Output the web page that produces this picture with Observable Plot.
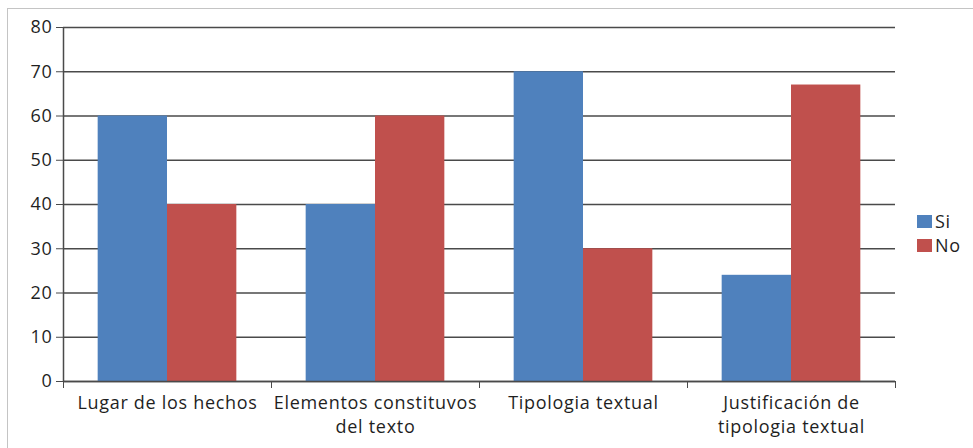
<!DOCTYPE html>
<html>
<head>
<meta charset="utf-8">
<script src="https://cdn.jsdelivr.net/npm/d3@7"></script>
<script src="https://cdn.jsdelivr.net/npm/@observablehq/plot@0.6"></script>
<style>
  html, body { margin: 0; padding: 0; background: #fff; }
  #wrap { position: relative; width: 973px; height: 448px; overflow: hidden; font-family: "Open Sans", sans-serif; color: #1f1f1f; }
  #border { position: absolute; left: 7px; top: 8px; width: 980px; height: 460px; border-left: 1.5px solid #c4c4c4; border-top: 1.5px solid #c4c4c4; }
  #chart { position: absolute; left: 0; top: 0; }
  #chart svg text { letter-spacing: 0.7px; }
  #legend { position: absolute; left: 917px; top: 209px; font-size: 18px; line-height: 24px; letter-spacing: 0.7px; }
  #legend .row { display: flex; align-items: center; }
  #legend .sw { width: 15px; height: 13px; margin-right: 3px; }
</style>
</head>
<body>
<div id="wrap">
  <div id="border"></div>
  <div id="chart"></div>
  <div id="legend"></div>
</div>
<script>
const categories = ["Lugar de los hechos", "Elementos constituvos del texto", "Tipologia textual", "Justificación de tipologia textual"];
const categoryLabels = ["Lugar de los hechos", "Elementos constituvos\ndel texto", "Tipologia textual", "Justificación de\ntipologia textual"];
const series = ["Si", "No"];
const siValues = [60, 40, 70, 24];
const noValues = [40, 60, 30, 67];
const yTicks = [0, 10, 20, 30, 40, 50, 60, 70, 80];
const colors = ["#4f81bd", "#c0504d"];

const data = categories.flatMap((c, i) => [
  {category: c, series: "Si", value: siValues[i]},
  {category: c, series: "No", value: noValues[i]}
]);

const axisColor = "#4a4a4a";

const chart = Plot.plot({
  width: 973,
  height: 448,
  marginLeft: 63,
  marginRight: 78,
  marginTop: 27,
  marginBottom: 67,
  style: {fontFamily: "'Open Sans', sans-serif", color: "#1f1f1f", background: "transparent"},
  fx: {domain: categories, padding: 0, axis: null, label: null},
  x: {domain: [0, series.length + 1], axis: null},
  y: {domain: [0, 80], axis: null},
  color: {domain: series, range: colors},
  marks: [
    Plot.gridY(yTicks, {stroke: axisColor, strokeOpacity: 1, strokeWidth: 1.5}),
    Plot.rectY(data, {
      fx: "category",
      x1: d => series.indexOf(d.series) + 0.5,
      x2: d => series.indexOf(d.series) + 1.5,
      y: "value",
      fill: "series"
    }),
    Plot.ruleY([0], {stroke: axisColor, strokeWidth: 1.5}),
    Plot.ruleX([0], {fx: [categories[0]], stroke: axisColor, strokeWidth: 1.5}),
    Plot.axisY({ticks: yTicks, tickSize: 7, tickPadding: 4, fontSize: 18, stroke: axisColor, label: null}),
    Plot.axisX({ticks: [0, series.length + 1], tickSize: 7, tickFormat: () => "", stroke: axisColor, label: null}),
    Plot.axisFx({
      anchor: "bottom",
      tickSize: 0,
      tickPadding: 11,
      fontSize: 18,
      lineHeight: 1.3,
      label: null,
      tickFormat: c => categoryLabels[categories.indexOf(c)]
    })
  ]
});
document.getElementById("chart").appendChild(chart);

const legend = document.getElementById("legend");
series.forEach((s, i) => {
  const row = document.createElement("div");
  row.className = "row";
  const sw = document.createElement("div");
  sw.className = "sw";
  sw.style.background = colors[i];
  const t = document.createElement("span");
  t.textContent = s;
  row.appendChild(sw);
  row.appendChild(t);
  legend.appendChild(row);
});
</script>
</body>
</html>
